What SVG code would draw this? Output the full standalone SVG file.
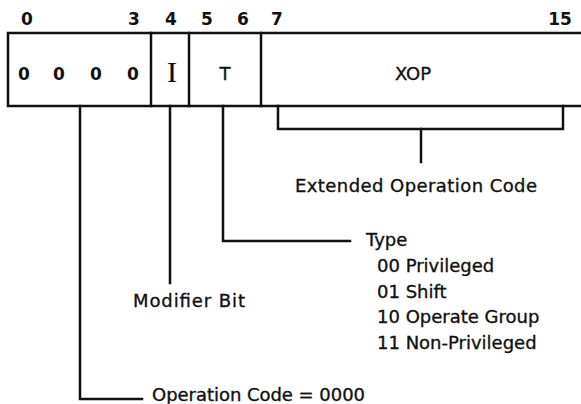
<svg xmlns="http://www.w3.org/2000/svg" width="581" height="404" viewBox="0 0 581 404">
<style>
text{font-family:"DejaVu Sans","Liberation Sans",sans-serif;font-size:18px;fill:#111;stroke:#111;stroke-width:0.35;}
.n{text-anchor:middle;font-weight:bold;font-size:17px;stroke-width:0;}
.c{text-anchor:middle;}
.ser{font-family:"Liberation Serif","DejaVu Serif",serif;font-size:30px;text-anchor:middle;stroke-width:0.2;}
.ln{fill:none;stroke:#111;stroke-width:2.5;stroke-linejoin:miter;stroke-linecap:square;}
</style>
<rect width="581" height="404" fill="#fff"/>
<g id="bit-numbers">
<text class="n" x="27" y="25">0</text>
<text class="n" x="134" y="25">3</text>
<text class="n" x="171" y="25">4</text>
<text class="n" x="207" y="25">5</text>
<text class="n" x="243" y="25">6</text>
<text class="n" x="277" y="25">7</text>
<text class="n" x="560" y="25">15</text>
</g>
<g id="field-opcode">
<path class="ln" d="M581,33 H8 V106 H581"/>
<text class="n" x="24" y="80">0</text>
<text class="n" x="59" y="80">0</text>
<text class="n" x="96" y="80">0</text>
<text class="n" x="133" y="80">0</text>
</g>
<g id="field-i">
<path class="ln" d="M151,33 V106"/>
<text class="ser" x="172" y="82">I</text>
</g>
<g id="field-t">
<path class="ln" d="M189,33 V106"/>
<text class="c" x="225" y="80">T</text>
</g>
<g id="field-xop">
<path class="ln" d="M261,33 V106"/>
<text class="c" x="413" y="80">XOP</text>
</g>
<g id="connectors">
<path class="ln" d="M80,106 V399 H142"/>
<path class="ln" d="M170,106 V283"/>
<path class="ln" d="M223,106 V241 H350"/>
<path class="ln" d="M278,106 V129 H563 V106"/>
<path class="ln" d="M421,129 V162"/>
</g>
<g id="label-xop">
<text x="295" y="192" textLength="242" lengthAdjust="spacing">Extended Operation Code</text>
</g>
<g id="label-type">
<text x="366" y="246">Type</text>
<text x="377" y="272">00 Privileged</text>
<text x="377" y="298">01 Shift</text>
<text x="377" y="323">10 Operate Group</text>
<text x="377" y="349">11 Non-Privileged</text>
</g>
<g id="label-modifier">
<text x="133" y="307" textLength="112" lengthAdjust="spacing">Modifier Bit</text>
</g>
<g id="label-opcode">
<text x="152" y="401" textLength="213" lengthAdjust="spacing">Operation Code = 0000</text>
</g>
</svg>
